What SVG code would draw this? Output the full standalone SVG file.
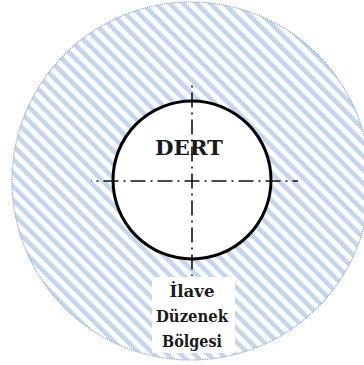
<svg xmlns="http://www.w3.org/2000/svg" width="364" height="365" viewBox="0 0 364 365">
  <defs>
    <pattern id="hatch" patternUnits="userSpaceOnUse" width="9.6" height="9.6" patternTransform="rotate(-45)">
      <rect x="0" y="0" width="9.6" height="9.6" fill="#ffffff"/>
      <rect x="0" y="0" width="4.6" height="9.6" fill="#c3d6ee"/>
    </pattern>
    <clipPath id="outerClip">
      <circle cx="191" cy="181" r="179"/>
    </clipPath>
  </defs>
  <style>
    .axis { stroke: #111; stroke-width: 1.6; fill: none; stroke-dasharray: 15 5 2 5; }
    .label { font-family: "DejaVu Serif", serif; font-stretch: condensed; font-weight: bold; fill: #1a1a1a; text-anchor: middle; }
  </style>
  <rect width="364" height="365" fill="#ffffff"/>
  <g id="zone">
    <circle cx="191" cy="181" r="179" fill="url(#hatch)" stroke="#8ea5c8" stroke-width="1.2" stroke-dasharray="1.2 1"/>
    <rect x="152" y="277" width="83" height="76" fill="#ffffff" clip-path="url(#outerClip)"/>
  </g>
  <g id="dert">
    <circle cx="192" cy="180" r="79" fill="#ffffff" stroke="#000" stroke-width="3"/>
    <text class="label" x="189" y="155" font-size="21" textLength="68" lengthAdjust="spacingAndGlyphs">DERT</text>
  </g>
  <g id="connectors">
    <line class="axis" x1="91" y1="181" x2="298" y2="181" stroke-dashoffset="14.5"/>
    <line class="axis" x1="192" y1="81" x2="192" y2="276" stroke-dashoffset="15.5"/>
  </g>
  <g id="ilave">
    <text class="label" x="192" y="297" font-size="17.5" textLength="45" lengthAdjust="spacingAndGlyphs">İlave</text>
    <text class="label" x="192" y="322" font-size="17.5" textLength="72" lengthAdjust="spacingAndGlyphs">Düzenek</text>
    <text class="label" x="192" y="347" font-size="17.5" textLength="60" lengthAdjust="spacingAndGlyphs">Bölgesi</text>
  </g>
</svg>
